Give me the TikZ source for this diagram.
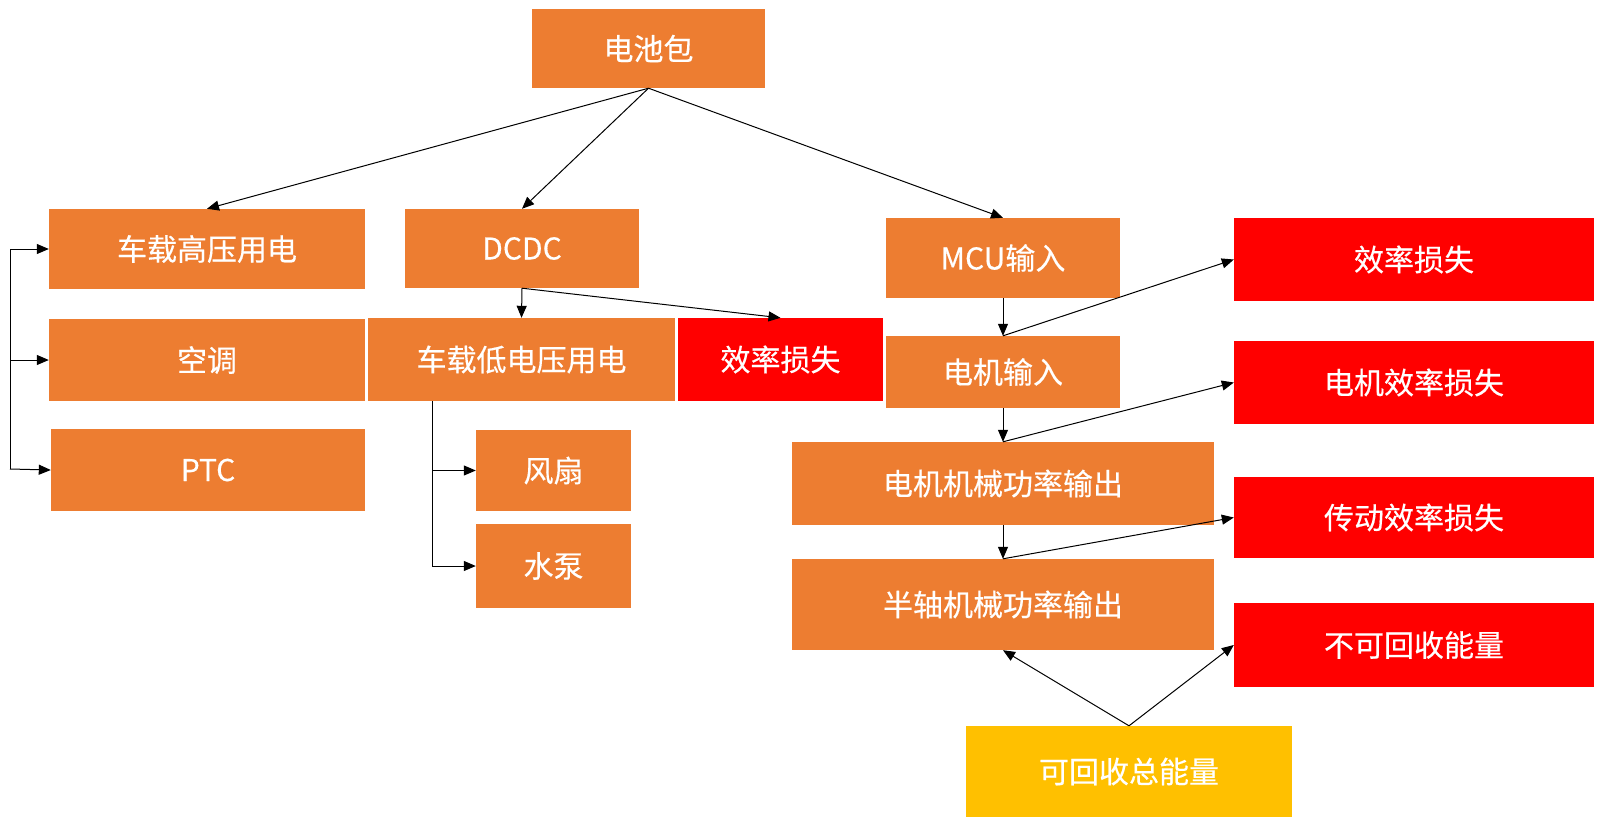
\documentclass[tikz,border=0pt]{standalone}
\usepackage{fontspec}
\setmainfont[FakeBold=0.4]{Noto Sans CJK SC}
\usetikzlibrary{arrows.meta}
\definecolor{boxorange}{HTML}{ED7D31}
\definecolor{boxred}{HTML}{FF0000}
\definecolor{boxyellow}{HTML}{FFC000}
\tikzset{
	blk/.style={fill=boxorange, text=white, inner sep=0pt, font=\fontsize{30pt}{36pt}\selectfont},
	lossblk/.style={blk, fill=boxred},
	recblk/.style={blk, fill=boxyellow},
	arr/.style={line width=1pt, -{Triangle[length=12pt, width=10pt]}}
}
\newcommand{\blkbox}[7]{\node[#1, minimum width=#4pt, minimum height=#5pt] (#6) at (#2, #3) {\raisebox{-5pt}{#7}};}

\begin{document}
\begin{tikzpicture}[x=1pt, y=-1pt]
		%%%%% START %%%%%
		\useasboundingbox (0, 0) rectangle (1607, 831);
		
		\blkbox{blk}{648.5}{48.5}{233}{79}{bat}{电池包}
		
		\blkbox{blk}{207}{249}{316}{80}{hv}{车载高压用电}
		\blkbox{blk}{207}{360}{316}{82}{ac}{空调}
		\blkbox{blk}{208}{470}{314}{82}{ptc}{PTC}
		
		\blkbox{blk}{522}{248.5}{234}{79}{dcdc}{DCDC}
		\blkbox{blk}{521.5}{359.5}{307}{83}{lv}{车载低电压用电}
		\blkbox{lossblk}{780.5}{359.5}{205}{83}{dloss}{效率损失}
		\blkbox{blk}{553.5}{470.5}{155}{81}{fan}{风扇}
		\blkbox{blk}{553.5}{566}{155}{84}{pump}{水泵}
		
		\blkbox{blk}{1003}{258}{234}{80}{mcu}{MCU输入}
		\blkbox{blk}{1003}{372}{234}{72}{mot}{电机输入}
		\blkbox{blk}{1003}{483.5}{422}{83}{mech}{电机机械功率输出}
		\blkbox{blk}{1003}{604.5}{422}{91}{shaft}{半轴机械功率输出}
		
		\blkbox{lossblk}{1414}{259.5}{360}{83}{closs}{效率损失}
		\blkbox{lossblk}{1414}{382.5}{360}{83}{mloss}{电机效率损失}
		\blkbox{lossblk}{1414}{517.5}{360}{81}{tloss}{传动效率损失}
		\blkbox{lossblk}{1414}{645}{360}{84}{nrec}{不可回收能量}
		\blkbox{recblk}{1129}{771.5}{326}{91}{rec}{可回收总能量}
		
		%% battery
		\draw[arr] (bat.south) -- (hv.north);
		\draw[arr] (bat.south) -- (dcdc.north);
		\draw[arr] (bat.south) -- (mcu.north);
		
		%% high voltage bus
		\coordinate (hvbus) at (10, 469);
		\draw[arr] (hvbus) |- (hv.west);
		\draw[arr] (hvbus |- ac.west) -- (ac.west);
		\draw[arr] (hvbus) -- (ptc.west);
		
		%% low voltage
		\draw[arr] (dcdc.south) -- (lv.north);
		\draw[arr] (dcdc.south) -- (dloss.north);
		\coordinate (lvbus) at (432, 401);
		\draw[arr] (lvbus) |- (fan.west);
		\draw[arr] (lvbus) |- (pump.west);
		
		%% drive chain
		\draw[arr] (mcu.south) -- (mot.north);
		\draw[arr] (mot.north) -- (closs.west);
		\draw[arr] (mot.south) -- (mech.north);
		\draw[arr] (mech.north) -- (mloss.west);
		\draw[arr] (mech.south) -- (shaft.north);
		\draw[arr] (shaft.north) -- (tloss.west);
		
		%% recovery
		\draw[arr] (rec.north) -- (shaft.south);
		\draw[arr] (rec.north) -- (nrec.west);
		
		%%%%% END %%%%%
	\end{tikzpicture}
\end{document}
